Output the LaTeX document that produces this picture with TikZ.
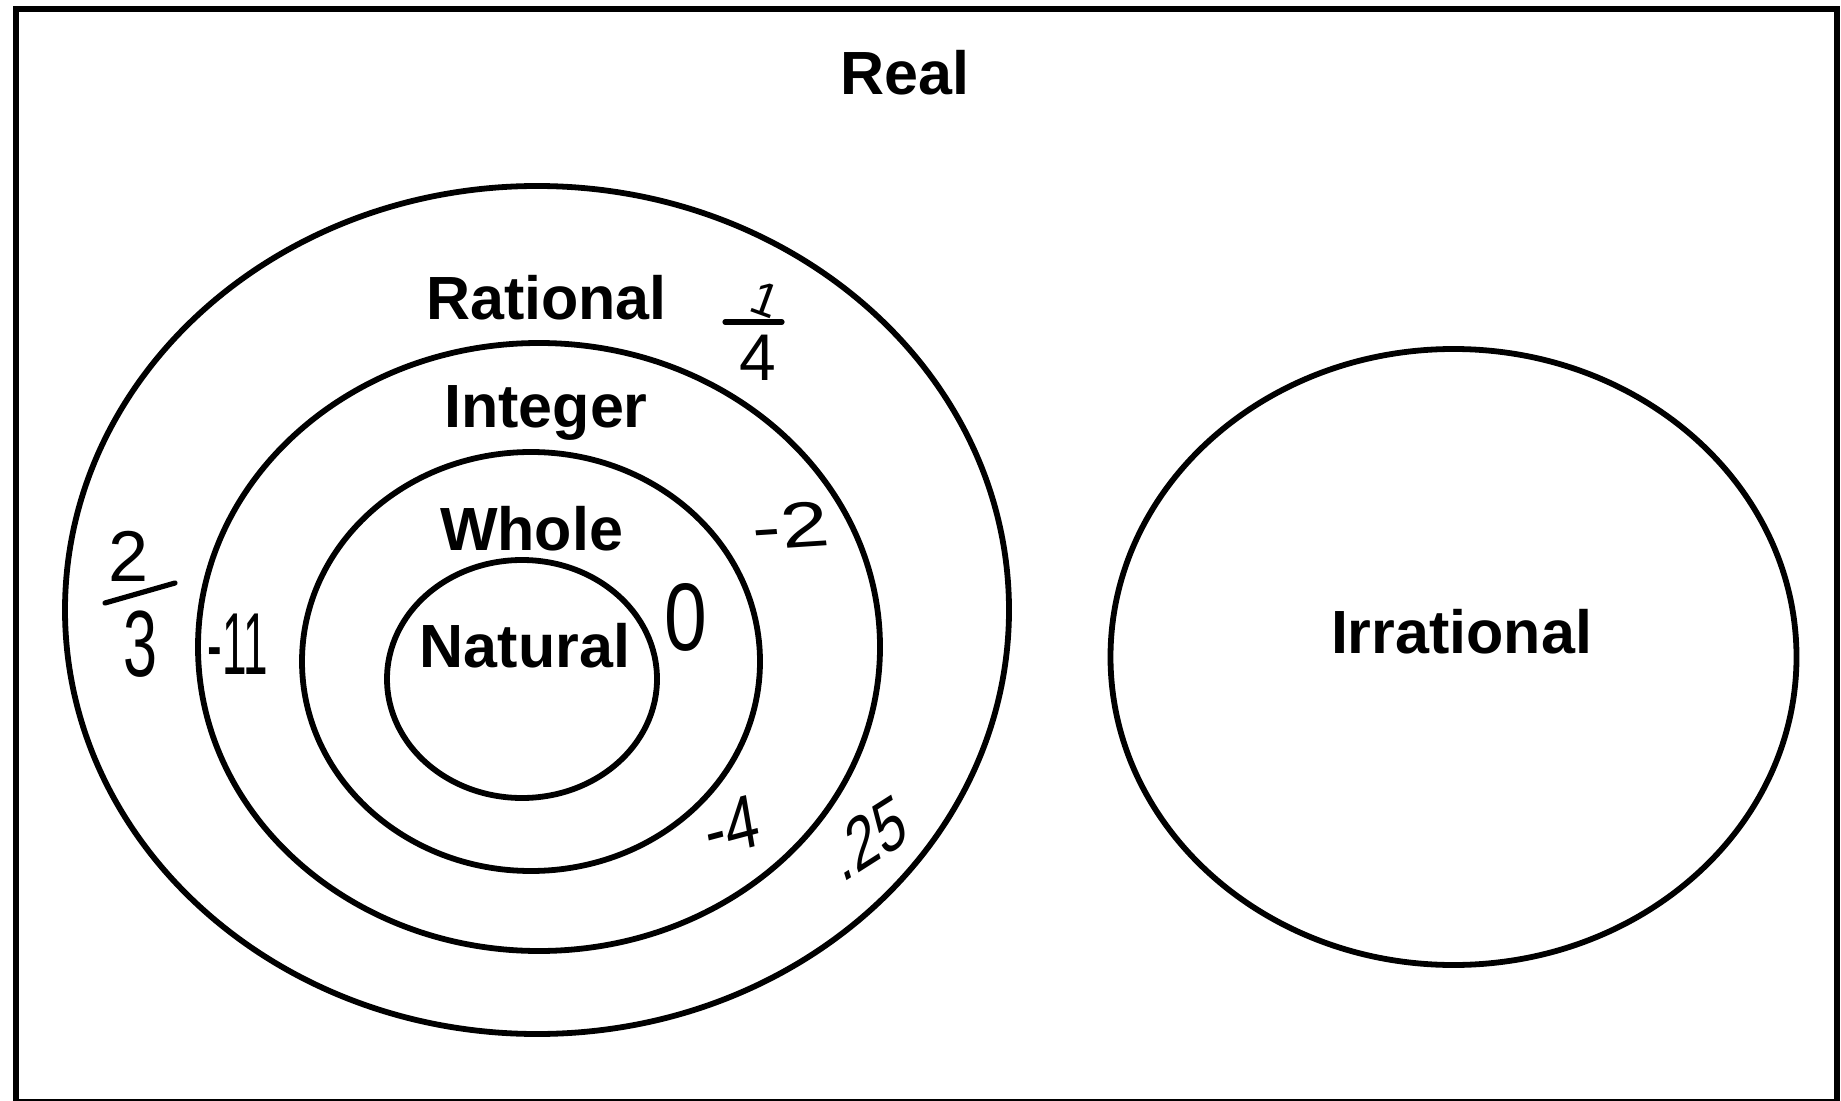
\documentclass[tikz,border=0pt]{standalone}
\usepackage{fontspec}
\setmainfont{Liberation Sans}
\usetikzlibrary{shapes.geometric}
\begin{document}
\begin{tikzpicture}[x=0.5pt,y=0.5pt,
  setring/.style={draw, ellipse, line width=2.9pt, inner sep=0pt, outer sep=0pt},
  setlabel/.style={font=\fontsize{30.5pt}{36pt}\selectfont\bfseries, anchor=base, inner sep=0pt},
  hand/.style={inner sep=0pt, anchor=center},
  handline/.style={line width=2.6pt, line cap=round},
  framebox/.style={draw, line width=3pt}]
\useasboundingbox (0,0) rectangle (1841,-1101);
\draw[framebox] (15.5,-9) rectangle (1837,-1102);

% set rings
\node[setring, minimum width=472pt, minimum height=424pt] (rational) at (537,-610) {};
\node[setring, minimum width=341pt, minimum height=304pt] (integer) at (539,-647) {};
\node[setring, minimum width=229pt, minimum height=209.5pt] (whole) at (531,-661.5) {};
\node[setring, minimum width=135pt, minimum height=119pt] (natural) at (522,-679) {};
\node[setring, minimum width=343pt, minimum height=308pt] (irrational) at (1453.5,-657) {};

% labels
\node[setlabel] (lreal) at (905,-95) {Real};
\node[setlabel] (lrational) at (546.5,-320) {Rational};
\node[setlabel] (linteger) at (546,-428) {Integer};
\node[setlabel] (lwhole) at (531.5,-550) {Whole};
\node[setlabel] (lnatural) at (525,-667) {Natural};
\node[setlabel] (lirrational) at (1461.5,-653) {Irrational};

% handwritten numbers
\node[hand, font=\fontsize{23.7pt}{28pt}\selectfont, rotate=-20] (qnum) at (765,-300) {1};
\node[hand, font=\fontsize{33pt}{38pt}\selectfont] (qden) at (758,-358) {4};
\coordinate (qbarl) at (725,-322);
\coordinate (qbarr) at (782,-322);
\draw[handline] (qbarl) -- (qbarr);

\node[hand, font=\fontsize{32pt}{38pt}\selectfont, xscale=1.35, rotate=5] (mtwo) at (790,-526) {-2};
\node[hand, font=\fontsize{48pt}{56pt}\selectfont, xscale=0.8] (zero) at (686,-617) {0};
\node[hand, font=\fontsize{44pt}{52pt}\selectfont, xscale=0.5] (meleven) at (238,-644) {-11};
\node[hand, font=\fontsize{38pt}{44pt}\selectfont, xscale=0.8, rotate=12] (mfour) at (732,-826) {-4};
\node[hand, font=\fontsize{38pt}{44pt}\selectfont, xscale=0.7, rotate=24] (pquarter) at (869,-838) {.25};

\node[hand, font=\fontsize{36pt}{42pt}\selectfont] (tnum) at (129,-556) {2};
\node[hand, font=\fontsize{47pt}{54pt}\selectfont, xscale=0.65] (tden) at (140,-644) {3};
\coordinate (tbarl) at (105,-603);
\coordinate (tbarr) at (175,-583);
\draw[handline] (tbarl) -- (tbarr);
\end{tikzpicture}
\end{document}
